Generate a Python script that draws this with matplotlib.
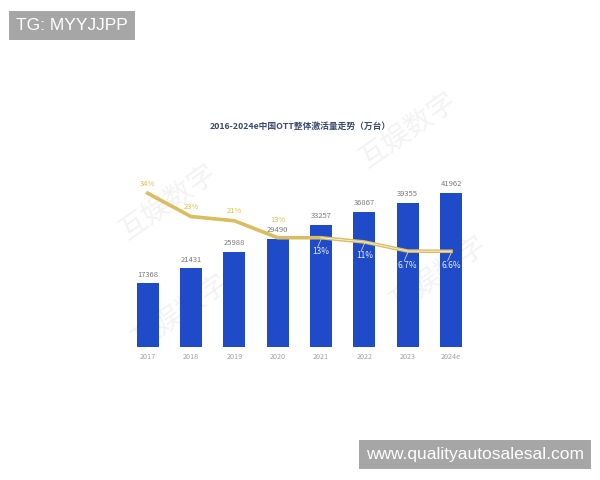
import matplotlib.pyplot as plt
import numpy as np

plt.rcParams['font.family'] = ['Noto Sans CJK SC', 'DejaVu Sans']

years = ['2017', '2018', '2019', '2020', '2021', '2022', '2023', '2024e']
active = [17368, 21431, 25988, 29490, 33257, 36867, 39355, 41962]
growth = [34, 23, 21, 13, 13, 11, 6.7, 6.6]
growth_labels = ['34%', '23%', '21%', '13%', '13%', '11%', '6.7%', '6.6%']

fig = plt.figure(figsize=(6, 4.8), dpi=100)
fig.patch.set_facecolor('white')

# faint watermark, kept behind the chart
for (wx, wy) in [(0.28, 0.58), (0.68, 0.73), (0.30, 0.35), (0.73, 0.43)]:
    fig.text(wx, wy, '互娱数字', fontsize=20, color='#f3f3f3', rotation=35,
             ha='center', va='center', zorder=-1)

ax = fig.add_axes([0.21, 0.277, 0.578, 0.41])
ax.set_facecolor('none')
x = np.arange(len(years))
ax.bar(x, active, width=0.51, color='#1f4bc9', zorder=2)
ax.set_xlim(-0.5, len(years) - 0.5)
ax.set_ylim(0, 53700)
for xi, v in zip(x, active):
    ax.text(xi, v + 1300, str(v), ha='center', va='bottom', fontsize=5.5, color='#7a7a7a')
ax.set_xticks(x)
ax.set_xticklabels(years, fontsize=5.2, color='#a0a0a0')
ax.tick_params(axis='x', length=0, pad=4)
ax.set_yticks([])
for s in ax.spines.values():
    s.set_visible(False)

ax2 = ax.twinx()
ax2.set_ylim(-38.6, 54.3)
ax2.plot(x, growth, color='#d9bd5e', lw=2.6, zorder=3)
ax2.plot(x[4:], growth[4:], color='#f4f4f4', lw=0.6, zorder=4)
for i, (xi, g, lab) in enumerate(zip(x, growth, growth_labels)):
    if i < 3:
        ax2.text(xi, g + 2.5, lab, ha='center', va='bottom', fontsize=5.5, color='#d7c24a', zorder=5)
    elif i == 3:
        ax2.text(xi, g + 6.5, lab, ha='center', va='bottom', fontsize=5.5, color='#d7c24a', zorder=5)
    else:
        ax2.plot([xi, xi - 0.08], [g - 0.8, g - 4.5], color='#dfe6f7', lw=0.5, zorder=5)
        ax2.text(xi, g - 4.5, lab, ha='center', va='top', fontsize=6, color='#e8ecf8', zorder=5)
ax2.set_yticks([])
for s in ax2.spines.values():
    s.set_visible(False)

fig.text(0.5, 0.737, '2016-2024e中国OTT整体激活量走势（万台）', ha='center', va='center',
         fontsize=6.3, fontweight='bold', color='#3b4a6e')

fig.text(0.027, 0.947, 'TG: MYYJJPP', fontsize=12.5, color='white', ha='left', va='center',
         family=['Liberation Sans', 'DejaVu Sans'],
         bbox=dict(boxstyle='square,pad=0.4', fc='#a6a6a6', ec='none'))
fig.text(0.61, 0.053, 'www.qualityautosalesal.com', fontsize=12.5, color='white', ha='left', va='center',
         family=['Liberation Sans', 'DejaVu Sans'],
         bbox=dict(boxstyle='square,pad=0.4', fc='#a6a6a6', ec='none'))

fig.savefig('out.png', dpi=100)
